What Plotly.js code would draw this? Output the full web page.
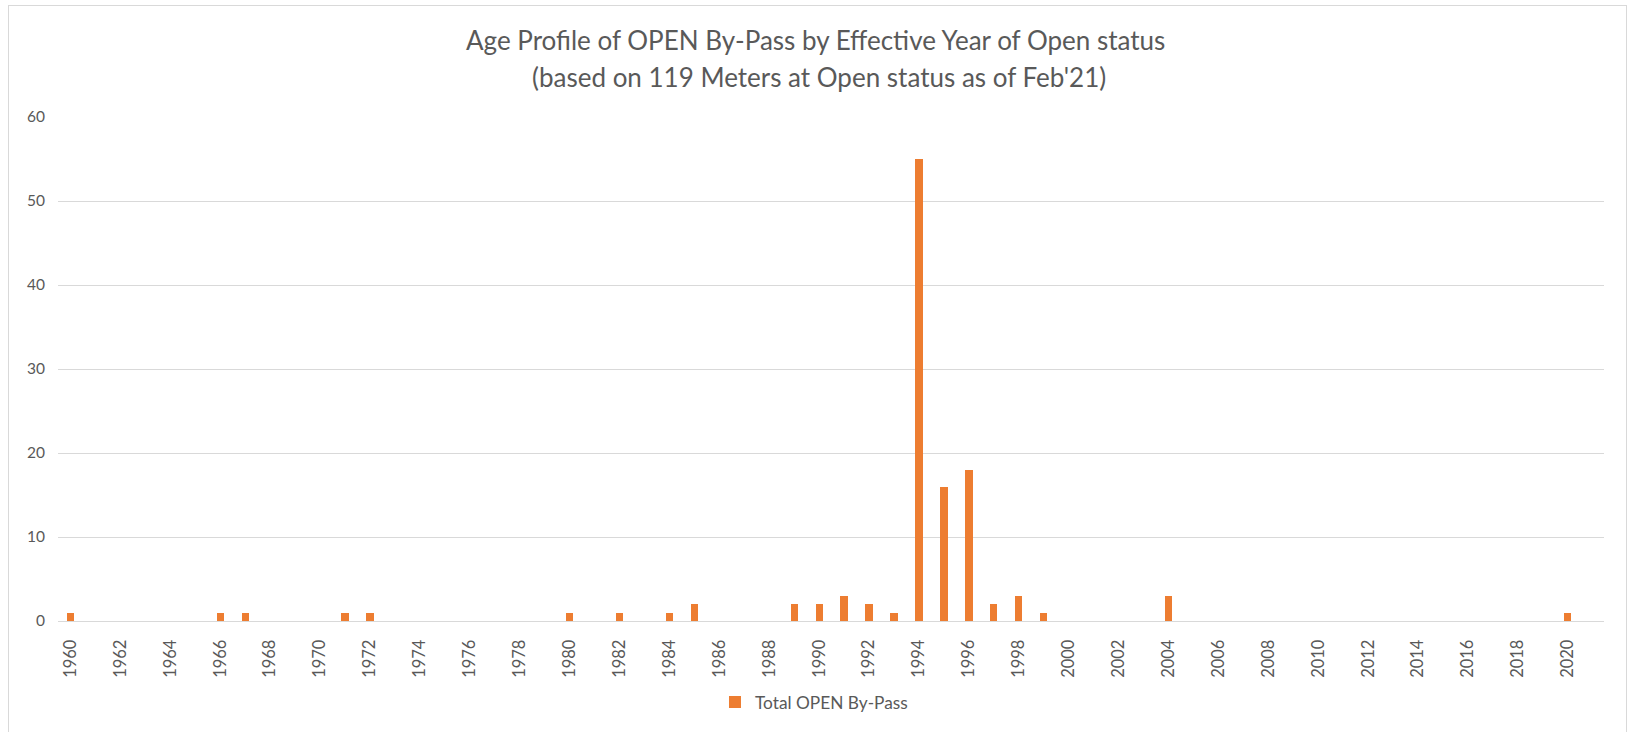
<!DOCTYPE html>
<html>
<head>
<meta charset="utf-8">
<script src="https://cdn.plot.ly/plotly-3.0.1.min.js"></script>
<style>
html, body { margin: 0; padding: 0; background: #ffffff; width: 1627px; height: 732px; overflow: hidden; }
#frame { position: absolute; left: 8px; top: 5px; width: 1617px; height: 727px; border-left: 1px solid #d9d9d9; border-top: 1px solid #d9d9d9; border-right: 1px solid #d9d9d9; }
#chart { width: 1617px; height: 727px; }
</style>
</head>
<body>
<div id="frame"><div id="chart"></div></div>
<script>
// Data
const years = [1960, 1966, 1967, 1971, 1972, 1980, 1982, 1984, 1985, 1989, 1990, 1991, 1992, 1993, 1994, 1995, 1996, 1997, 1998, 1999, 2004, 2020];
const counts = [1, 1, 1, 1, 1, 1, 1, 1, 2, 2, 2, 3, 2, 1, 55, 16, 18, 2, 3, 1, 3, 1];
const tickYears = [1960,1962,1964,1966,1968,1970,1972,1974,1976,1978,1980,1982,1984,1986,1988,1990,1992,1994,1996,1998,2000,2002,2004,2006,2008,2010,2012,2014,2016,2018,2020];
const seriesName = "Total OPEN By-Pass";
const titleLine1 = "Age Profile of OPEN By-Pass by Effective Year of Open status";
const titleLine2 = "(based on 119 Meters at Open status as of Feb'21)";

const textColor = "#595959";
const fontFam = "Lato, 'Open Sans', sans-serif";

const trace = {
  type: "bar",
  x: years,
  y: counts,
  name: seriesName,
  width: 0.29,
  marker: { color: "#ED7D31" },
  showlegend: true,
  hoverinfo: "x+y"
};

const layout = {
  width: 1617,
  height: 726,
  margin: { l: 49, r: 22, t: 111, b: 104 },
  paper_bgcolor: "#ffffff",
  plot_bgcolor: "#ffffff",
  font: { family: fontFam, color: textColor, size: 15 },
  showlegend: true,
  xaxis: {
    type: "linear",
    range: [1959.5, 2021.45],
    tickvals: tickYears,
    ticktext: tickYears.map(String),
    tickangle: -90,
    showgrid: false,
    zeroline: false,
    showline: true,
    linecolor: "#d9d9d9",
    linewidth: 1,
    ticks: "",
    ticklabelstandoff: 11,
    tickfont: { family: fontFam, size: 16.5, color: textColor },
    fixedrange: true
  },
  yaxis: {
    range: [0, 60],
    dtick: 10,
    tick0: 0,
    showgrid: true,
    gridcolor: "#d9d9d9",
    gridwidth: 1,
    zeroline: true,
    zerolinecolor: "#d9d9d9",
    showline: false,
    ticks: "outside",
    ticklen: 5,
    tickcolor: "rgba(0,0,0,0)",
    ticklabelstandoff: 4,
    tickfont: { family: fontFam, size: 15.5, color: textColor },
    fixedrange: true
  },
  legend: {
    orientation: "h",
    x: 0.489,
    xanchor: "center",
    y: -0.1614,
    yanchor: "middle",
    font: { family: fontFam, size: 17.3, color: textColor },
    bgcolor: "rgba(0,0,0,0)"
  },
  annotations: [
    {
      text: titleLine1, xref: "paper", yref: "paper", x: 0.490, y: 1.1535,
      xanchor: "center", yanchor: "middle", showarrow: false,
      font: { family: fontFam, size: 26, color: textColor }
    },
    {
      text: titleLine2, xref: "paper", yref: "paper", x: 0.492, y: 1.0803,
      xanchor: "center", yanchor: "middle", showarrow: false,
      font: { family: fontFam, size: 26, color: textColor }
    }
  ],
  bargap: 0
};

Plotly.newPlot("chart", [trace], layout, { displayModeBar: false, staticPlot: true });
</script>
</body>
</html>
